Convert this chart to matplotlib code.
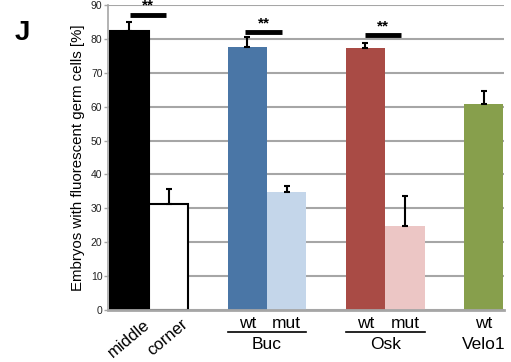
import numpy as np
import matplotlib
matplotlib.use('Agg')
import matplotlib.pyplot as plt
import matplotlib.transforms as mtransforms

plt.rcParams['font.family'] = ['Liberation Sans', 'DejaVu Sans']

# bar data
positions = [0, 1, 3, 4, 6, 7, 9]
values = [82.3, 31.3, 77.7, 34.9, 77.4, 24.9, 60.8]
err_up = [2.7, 4.4, 2.9, 1.7, 1.3, 8.8, 3.9]
colors = ['#000000', '#ffffff', '#4a76a6', '#c4d6ea', '#a94b45', '#ecc6c5', '#879f4c']
edges = ['#000000', '#000000', 'none', 'none', 'none', 'none', 'none']

# significance brackets: (x start, x end, height)
sig_lines = [(0.03, 0.94, 87.2), (2.95, 3.88, 82.0), (5.99, 6.9, 81.1)]

rot_labels = ['middle', 'corner']
sub_labels = ['wt', 'mut', 'wt', 'mut', 'wt']
sub_pos = [3, 4, 6, 7, 9]
groups = ['Buc', 'Osk', 'Velo1']
group_pos = [3.5, 6.5, 9]
group_lines = [(2.5, 4.5), (5.5, 7.5)]

yticks = np.arange(0, 91, 10)

fig = plt.figure(figsize=(5.11, 3.62), dpi=100)
ax = fig.add_axes([0.2114, 0.1436, 0.775, 0.8425])

ax.set_axisbelow(True)
ax.yaxis.grid(True, color='#a6a6a6', linewidth=1.5)
for i in range(len(positions)):
    ax.bar(positions[i], values[i], width=1.0, color=colors[i],
           edgecolor=edges[i], linewidth=1.5 if edges[i] != 'none' else 0,
           zorder=2)
ax.errorbar(positions, values, yerr=[np.zeros(len(err_up)), err_up],
            fmt='none', ecolor='black', elinewidth=1.5, capsize=2,
            capthick=1.5, zorder=3)

for x0, x1, h in sig_lines:
    ax.plot([x0, x1], [h, h], color='black', linewidth=3.5,
            solid_capstyle='butt', zorder=4)
    ax.text((x0 + x1) / 2, h + 0.5, '**', ha='center', va='bottom',
            fontsize=11, fontweight='bold')

ax.set_xlim(-0.54, 9.52)
ax.set_ylim(0, 90)
ax.set_yticks(yticks)
ax.tick_params(axis='y', labelsize=7.5, length=3, width=1, color='#a6a6a6',
               pad=1, labelcolor='#222222')
ax.set_xticks([])
for s in ['top', 'right']:
    ax.spines[s].set_visible(False)
ax.spines['left'].set_color('#a6a6a6')
ax.spines['left'].set_linewidth(1.2)
ax.spines['bottom'].set_color('#a6a6a6')
ax.spines['bottom'].set_linewidth(2)

ax.set_ylabel('Embryos with fluorescent germ cells [%]', fontsize=10.8,
              labelpad=4)

trans = mtransforms.blended_transform_factory(ax.transData, ax.transAxes)
rot_dx = [0.36, 0.3]
for i, lab in enumerate(rot_labels):
    ax.text(positions[i] + rot_dx[i], -0.022, lab, transform=trans,
            rotation=40, ha='right', va='top', fontsize=12,
            rotation_mode='anchor')
for x, lab in zip(sub_pos, sub_labels):
    ax.text(x, -0.043, lab, transform=trans, ha='center', va='center',
            fontsize=12.5)
for x, lab in zip(group_pos, groups):
    ax.text(x, -0.112, lab, transform=trans, ha='center', va='center',
            fontsize=12.5)
for x0, x1 in group_lines:
    ax.plot([x0, x1], [-0.073, -0.073], transform=trans, color='black',
            linewidth=1.2, clip_on=False)

fig.text(0.044, 0.909, 'J', fontsize=20, fontweight='bold', ha='center',
         va='center')

fig.savefig('out.png', dpi=100)
